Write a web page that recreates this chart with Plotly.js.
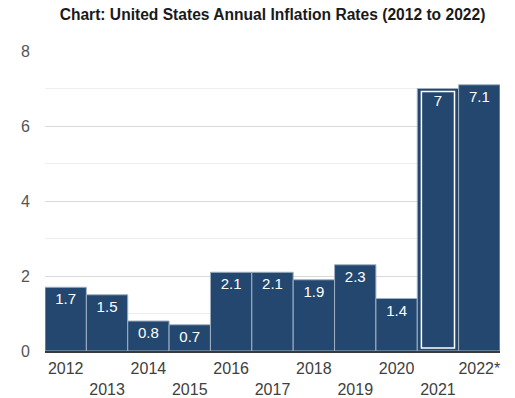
<!DOCTYPE html>
<html>
<head>
<meta charset="utf-8">
<script src="https://cdn.plot.ly/plotly-3.0.1.min.js"></script>
<style>html,body{margin:0;padding:0;background:#fff;}#chart{width:515px;height:398px;}</style>
</head>
<body>
<div id="chart"></div>
<script>
const years = ["2012","2013","2014","2015","2016","2017","2018","2019","2020","2021","2022*"];
const rates = [1.7, 1.5, 0.8, 0.7, 2.1, 2.1, 1.9, 2.3, 1.4, 7, 7.1];
const tickLabels = ["2012","<br>2013","2014","<br>2015","2016","<br>2017","2018","<br>2019","2020","<br>2021","2022*"];
const highlighted = "2021";

const barColor = "#24476f";
const main = {
  type: "bar",
  x: years,
  y: rates,
  text: rates.map(String),
  textposition: "inside",
  insidetextanchor: "end",
  textangle: 0,
  textfont: {family: "Liberation Sans, Arial, sans-serif", size: 15, color: "#ffffff"},
  marker: {color: barColor, line: {color: "#9fb0c2", width: 1}},
  hoverinfo: "skip",
  cliponaxis: false
};

const hiIdx = years.indexOf(highlighted);
const inset = 0.08;
const hiY = years.map((y, i) => i === hiIdx ? rates[i] - 2 * inset : null);
const hiBase = years.map((y, i) => i === hiIdx ? inset : null);
const highlight = {
  type: "bar",
  x: years,
  y: hiY,
  base: hiBase,
  width: 0.8,
  marker: {color: "rgba(0,0,0,0)", line: {color: "#ffffff", width: 1.5}},
  hoverinfo: "skip",
  showlegend: false
};

const layout = {
  width: 515, height: 398,
  margin: {l: 45, r: 15, t: 51, b: 47},
  paper_bgcolor: "#ffffff",
  plot_bgcolor: "#ffffff",
  showlegend: false,
  barmode: "overlay",
  bargap: 0,
  title: {
    text: "<b>Chart: United States Annual Inflation Rates (2012 to 2022)</b>",
    x: 0.5, xref: "paper", xanchor: "center",
    y: 1, yref: "container", yanchor: "top", pad: {t: 9},
    font: {family: "Liberation Sans, Arial, sans-serif", size: 15.6, color: "#1a1a1a"}
  },
  font: {family: "Liberation Sans, Arial, sans-serif"},
  xaxis: {
    type: "category",
    tickvals: years,
    ticktext: tickLabels,
    ticks: "",
    showgrid: false,
    showline: true,
    linecolor: "#3a3a3a",
    linewidth: 1.5,
    ticklabelstandoff: 2,
    tickfont: {size: 16, color: "#404040"},
    fixedrange: true
  },
  yaxis: {
    range: [0, 8],
    dtick: 2,
    ticks: "",
    showgrid: true,
    gridcolor: "#d9d9d9",
    gridwidth: 1,
    zeroline: false,
    showline: false,
    ticklabelstandoff: 14,
    tickfont: {size: 16, color: "#555555"},
    minor: {dtick: 1, showgrid: true, gridcolor: "#eeeeee", gridwidth: 1},
    fixedrange: true
  }
};

Plotly.newPlot("chart", [main, highlight], layout, {displayModeBar: false, staticPlot: true});
</script>
</body>
</html>
